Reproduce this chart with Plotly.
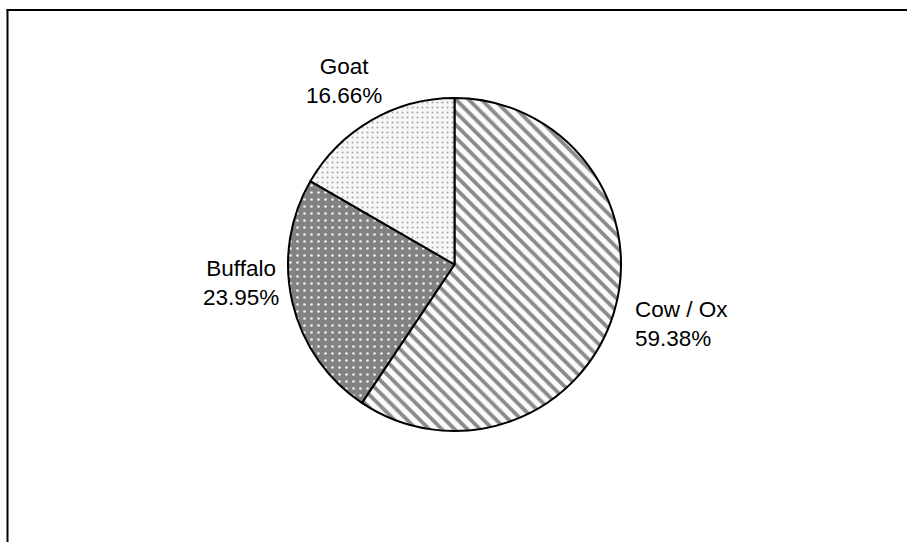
import plotly.graph_objects as go

# Share of livestock by animal type
labels = ["Cow / Ox", "Buffalo", "Goat"]
values = [59.38, 23.95, 16.66]

W, H = 907, 542
cx, cy, r = 454.5, 264.5, 166.5


def px(x):
    return x / W


def py(y):
    return 1 - y / H


fig = go.Figure(
    go.Pie(
        labels=labels,
        values=values,
        sort=False,
        direction="clockwise",
        rotation=0,
        textinfo="none",
        hoverinfo="label+percent",
        showlegend=False,
        domain=dict(x=[px(cx - r), px(cx + r)], y=[py(cy + r), py(cy - r)]),
        marker=dict(
            colors=["#ffffff", "#808080", "#f7f7f7"],
            line=dict(color="#000000", width=2),
            pattern=dict(
                shape=["\\", ".", "."],
                fgcolor=["#8a8a8a", "#eeeeee", "#a8a8a8"],
                bgcolor=["#fbfbfb", "#828282", "#f7f7f7"],
                size=[9, 7, 5],
                solidity=[0.42, 0.12, 0.14],
            ),
        ),
    )
)

font = dict(family="Liberation Sans, Arial, sans-serif", size=22.5, color="#000000")

# label placement: (x, y, xanchor, align) in pixels
label_pos = {
    "Cow / Ox": (633, 324, "left", "left"),
    "Buffalo": (241, 283, "center", "center"),
    "Goat": (344, 81, "center", "center"),
}

for lab, val in zip(labels, values):
    x, y, xa, al = label_pos[lab]
    fig.add_annotation(
        x=px(x), y=py(y), xref="paper", yref="paper",
        text=f"{lab}<br>{val:.2f}%",
        showarrow=False, xanchor=xa, yanchor="middle", align=al,
        font=font,
    )

# chart frame: top and left edges
frame = dict(color="#000000", width=2)
fig.add_shape(type="line", xref="paper", yref="paper",
              x0=px(6.5), x1=1.3, y0=py(10), y1=py(10), line=frame)
fig.add_shape(type="line", xref="paper", yref="paper",
              x0=px(7.5), x1=px(7.5), y0=-0.3, y1=py(9), line=frame)

fig.update_layout(
    width=W, height=H,
    margin=dict(l=0, r=0, t=0, b=0),
    paper_bgcolor="#ffffff",
    plot_bgcolor="#ffffff",
)

# keep the page free of scrollbars so the figure fills the window
page_css = (
    "document.documentElement.style.overflow='hidden';"
    "document.body.style.margin='0';"
    "document.body.style.overflow='hidden';"
)

fig.write_html("out.html", post_script=page_css)
